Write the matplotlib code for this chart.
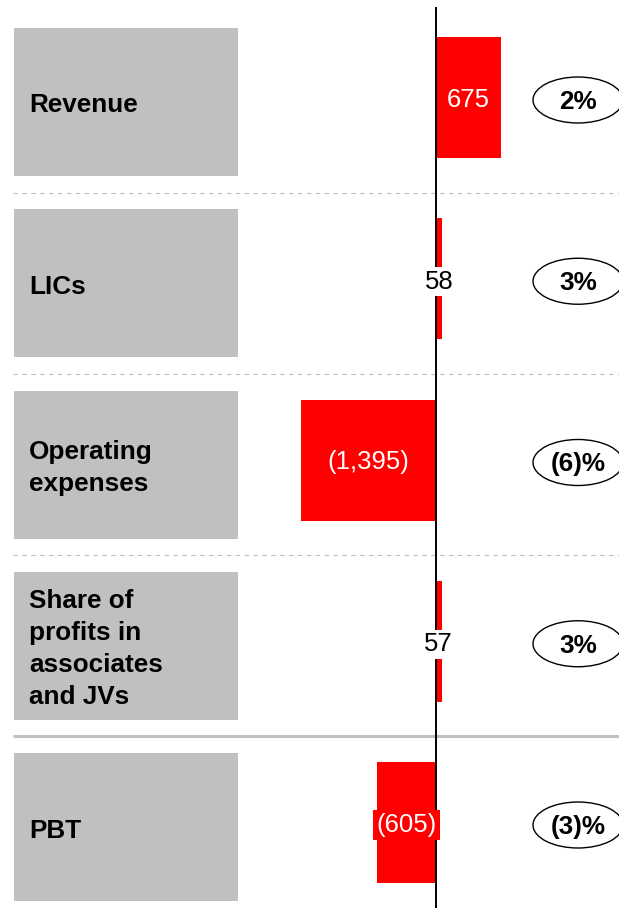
import matplotlib.pyplot as plt
from matplotlib.patches import Rectangle, Ellipse

# chart data
labels = ['Revenue', 'LICs', 'Operating\nexpenses', 'Share of\nprofits in\nassociates\nand JVs', 'PBT']
values = [675, 58, -1395, 57, -605]
value_text = ['675', '58', '(1,395)', '57', '(605)']
pct_text = ['2%', '3%', '(6)%', '3%', '(3)%']

plt.rcParams['font.family'] = ['Liberation Sans', 'DejaVu Sans']

W, H = 619, 908
fig = plt.figure(figsize=(W / 100, H / 100), dpi=100)

##layout axes in pixel units (boxes, separators, ellipses)
lay = fig.add_axes([0, 0, 1, 1])
lay.set_xlim(0, W)
lay.set_ylim(H, 0)
lay.axis('off')

pitch = 181.25
box_h = 148
tops = [28 + i * pitch for i in range(len(labels))]
centers = [t + box_h / 2 for t in tops]

for i, (t, lab) in enumerate(zip(tops, labels)):
    lay.add_patch(Rectangle((14, t), 224, box_h, fc='#c0c0c0', ec='none'))
    dy = 1 if '\n' not in lab else -3
    lay.text(29, t + box_h / 2 + dy, lab, fontsize=18.8, fontweight='bold',
             ha='left', va='center_baseline', linespacing=1.42)
    # percentage ellipse
    lay.add_patch(Ellipse((578, t + box_h / 2 - 2), 90, 46, fc='white', ec='black', lw=1.0))
    lay.text(578, t + box_h / 2 - 2.5, pct_text[i], fontsize=18.8, fontweight='bold',
             ha='center', va='center_baseline')
    # separators
    if i < len(labels) - 1:
        sep = t + box_h + 16.5
        if i == len(labels) - 2:
            lay.plot([13, W], [sep, sep], color='#c0c0c0', lw=2.2, solid_capstyle='butt')
        else:
            lay.plot([13, W], [sep, sep], color='#c0c0c0', lw=0.8, linestyle=(0, (4, 4)))

##bar axes, x in value units
k = 0.097  # px per unit
ax = fig.add_axes([0, 0, 1, 1])
ax.patch.set_alpha(0)
ax.set_xlim(-436 / k, (W - 436) / k)
ax.set_ylim(H, 0)
ax.axis('off')

bar_y = [c - 4.5 for c in centers]
ax.barh(bar_y, values, height=121, color='#ff0000', zorder=2)
ax.vlines(0, 7, H, color='black', lw=1.4, zorder=3)

for v, y, txt in zip(values, bar_y, value_text):
    if abs(v) < 100:
        ax.text(v / 2, y + 0.5, txt, fontsize=18.5, color='black', ha='center', va='center_baseline', zorder=4,
                bbox=dict(boxstyle='square,pad=0.1', fc='white', ec='none'))
    elif txt == '(605)':
        ax.text(v / 2, y, txt, fontsize=18.5, color='white', ha='center', va='center_baseline', zorder=4,
                bbox=dict(boxstyle='square,pad=0.12', fc='#ff0000', ec='none'))
    else:
        ax.text(v / 2, y, txt, fontsize=18.5, color='white', ha='center', va='center_baseline', zorder=4)

fig.savefig('out.png', dpi=100)
